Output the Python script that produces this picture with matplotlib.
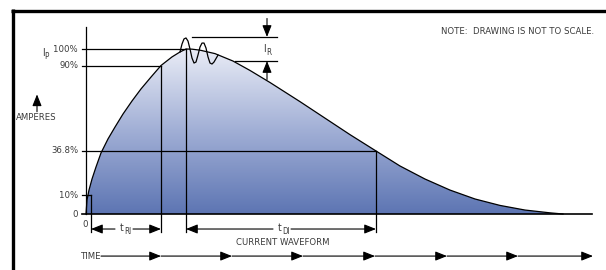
import numpy as np
import matplotlib.pyplot as plt
from matplotlib import font_manager
from matplotlib.colors import LinearSegmentedColormap
from matplotlib.patches import Polygon

# pick a narrow sans if one is installed
narrow = None
for f in font_manager.fontManager.ttflist:
    if 'Narrow' in f.name or 'Condensed' in f.name or f.stretch in ('condensed', 'semi-condensed'):
        narrow = f
        break
FAMILY = [narrow.name] if narrow else []
FAMILY += ['Liberation Sans', 'DejaVu Sans']
STRETCH = narrow.stretch if narrow else 'normal'
plt.rcParams['font.family'] = FAMILY

# waveform (time in arbitrary units, current in % of Ip)
rise_t = [0.00, 0.01, 0.03, 0.06, 0.10, 0.15, 0.22, 0.29, 0.37, 0.46, 0.55, 0.65, 0.75,
          0.86, 0.94, 1.00]
rise_i = [0.0, 8.5, 14.5, 21.2, 28.5, 37.0, 45.5, 52.7, 60.6, 68.5, 75.8, 83.0, 90.0,
          95.2, 98.2, 100.0]
decay_t = [1.06, 1.14, 1.29, 1.47, 1.64, 1.84, 2.14, 2.39, 2.64, 2.90, 3.14, 3.39, 3.64,
           3.89, 4.14, 4.39, 4.64, 4.77]
decay_i = [99.9, 99.3, 97.2, 92.7, 87.0, 79.7, 68.1, 58.1, 48.1, 38.2, 29.1, 21.2, 14.5,
           9.1, 5.2, 2.4, 0.7, 0.0]
ring_t = [0.94, 0.96, 0.98, 1.00, 1.02, 1.04, 1.06, 1.08, 1.10, 1.12, 1.14, 1.16, 1.18,
          1.20, 1.22, 1.24, 1.26, 1.28, 1.32]
ring_i = [98.2, 103.0, 106.1, 106.7, 104.8, 100.0, 94.5, 91.5, 92.1, 96.4, 101.2, 103.6, 103.6,
          100.6, 95.2, 91.5, 90.9, 92.1, 96.3]

level_pos = [0, 11.5, 38.2, 90, 100]
level_labels = ['0', '10%', '36.8%', '90%', '100%']
level_ends = [5.06, 0.05, 2.90, 0.75, 1.00]

time_marks = [0.75, 1.46, 2.17, 2.89, 3.61, 4.32, 5.07]

TXT = '#3a3a3a'
FS = 6.8

wave_t = rise_t + decay_t
wave_i = rise_i + decay_i

fig = plt.figure(figsize=(6.06, 2.70), dpi=100)
ax = fig.add_axes([0, 0, 1, 1])
ax.axis('off')

# gradient fill under the waveform
cmap = LinearSegmentedColormap.from_list('wave', ['#5d75b3', '#a0aed5', '#e9ecf6'])
grad = np.linspace(0, 1, 256).reshape(-1, 1)
img = ax.imshow(grad, cmap=cmap, origin='lower', aspect='auto',
                extent=[0, 5, 0, 100], zorder=1)
poly = Polygon(list(zip(wave_t, wave_i)) + [(wave_t[-1], 0), (0, 0)],
               closed=True, facecolor='none', edgecolor='none')
ax.add_patch(poly)
img.set_clip_path(poly)
ax.set_xlim(-0.86, 5.20)
ax.set_ylim(-33.94, 129.70)

ax.plot(wave_t, wave_i, color='black', lw=0.9, zorder=4)
ax.plot(ring_t, ring_i, color='black', lw=0.9, zorder=4)

# frame
ax.plot([-0.75, 5.3], [123.3, 123.3], color='black', lw=2.4, solid_capstyle='butt', zorder=5)
ax.plot([-0.735, -0.735], [124.5, -40], color='black', lw=2.4, solid_capstyle='butt', zorder=5)


def label(x, y, s, size=FS, **kw):
    kw.setdefault('ha', 'center')
    kw.setdefault('va', 'center')
    return ax.text(x, y, s, fontsize=size, color=TXT, fontstretch=STRETCH, **kw)


def sub_label(x, y, main, sub, size=FS):
    label(x, y, main, size=size + 0.8, ha='right')
    label(x, y - 2.2, sub, size=size - 1.0, ha='left')


# axes
ax.plot([0, 0], [0, 113.3], color='black', lw=0.9, zorder=3)
for pos, lab, end in zip(level_pos, level_labels, level_ends):
    ax.plot([-0.04, end], [pos, pos], color='black', lw=0.9 if pos else 1.2, zorder=3)
    label(-0.08, pos, lab, ha='right')
label(-0.01, -6.3, '0')

# vertical markers
for t, top in [(0.05, 11.5), (0.75, 90), (1.00, 100), (2.90, 38.2)]:
    ax.plot([t, t], [top, -10.9], color='black', lw=0.9, zorder=3)

arrow = dict(arrowstyle='-|>,head_length=0.7,head_width=0.28', color='black',
             lw=0.8, shrinkA=0, shrinkB=0, mutation_scale=10)

# Ip label and amperes arrow
sub_label(-0.415, 97.5, 'I', 'P')
ax.annotate('', xy=(-0.49, 72.5), xytext=(-0.49, 62.0), arrowprops=arrow)
label(-0.50, 58.2, 'AMPERES')

label(5.08, 110.9, 'NOTE:  DRAWING IS NOT TO SCALE.', ha='right')

# ringing amplitude
ax.plot([1.06, 1.91], [107.3, 107.3], color='black', lw=0.9)
ax.plot([1.49, 1.91], [92.7, 92.7], color='black', lw=0.9)
ax.annotate('', xy=(1.81, 107.3), xytext=(1.81, 118.5), arrowprops=arrow)
ax.annotate('', xy=(1.81, 92.7), xytext=(1.81, 81.5), arrowprops=arrow)
sub_label(1.80, 100.0, 'I', 'R')

# rise and decay time dimensions
dim_y = -9.1
for left, right, mid, sub in [(0.05, 0.75, 0.37, 'RI'), (1.00, 2.90, 1.95, 'DI')]:
    ax.annotate('', xy=(left, dim_y), xytext=(mid - 0.08, dim_y), arrowprops=arrow)
    ax.annotate('', xy=(right, dim_y), xytext=(mid + 0.10, dim_y), arrowprops=arrow)
    sub_label(mid + 0.01, dim_y + 0.8, 't', sub)
label(1.97, -17.0, 'CURRENT WAVEFORM')

# time axis
label(-0.05, -25.5, 'TIME', ha='left')
start = 0.15
for m in time_marks:
    ax.annotate('', xy=(m, -25.5), xytext=(start, -25.5), arrowprops=arrow)
    start = m

fig.savefig('out.png', dpi=100)
